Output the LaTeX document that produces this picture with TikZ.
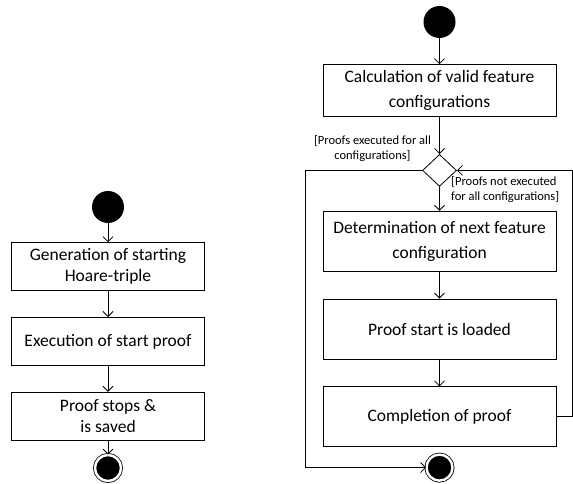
\documentclass[tikz,border=0pt]{standalone}
\usepackage{fontspec}
\setmainfont{Carlito}
\usetikzlibrary{positioning,arrows.meta,shapes.geometric}

\begin{document}
\begin{tikzpicture}[x=1pt, y=-1pt, node distance=26pt,
    every node/.style={font=\fontsize{17.5}{21.5}\selectfont},
    action/.style={draw, line width=0.8pt, minimum width=193pt, minimum height=48pt, align=center, inner sep=2pt},
    wideaction/.style={action, font=\fontsize{17.5}{25}\selectfont, minimum width=233pt, minimum height=60pt},
    decision/.style={diamond, draw, line width=0.8pt, minimum width=34pt, minimum height=32pt, inner sep=0pt},
    initial/.style={circle, fill=black, minimum size=32pt, inner sep=0pt},
    final/.style={circle, fill=black, draw=black, line width=0.8pt, double=white, double distance=2.4pt, minimum size=26pt, inner sep=0pt},
    guard/.style={font=\fontsize{12.5}{15}\selectfont, inner sep=0pt},
    flow/.style={-{Straight Barb[length=5pt, width=10pt]}, line width=0.8pt},
]
\useasboundingbox (0,0) rectangle (573,484);

% sequential proof
\node[initial] (lstart) at (108,207) {};
\node[action, below=19pt of lstart] (lgen) {Generation of starting\\Hoare-triple};
\node[action, below=of lgen] (lexec) {Execution of start proof};
\node[action, below=of lexec] (lstop) {Proof stops \&\\is saved};
\node[final, below=14pt of lstop] (lend) {};

\draw[flow] (lstart) -- (lgen);
\draw[flow] (lgen) -- (lexec);
\draw[flow] (lexec) -- (lstop);
\draw[flow] (lstop) -- (lend);

% proof per feature configuration
\node[initial] (rstart) at (439.5,22) {};
\node[wideaction, minimum height=52pt, below=26pt of rstart] (calc) {Calculation of valid feature\\configurations};
\node[decision, below=37pt of calc] (check) {};
\node[wideaction, below=24pt of check] (next) {Determination of next feature\\configuration};
\node[wideaction, below=27pt of next] (load) {Proof start is loaded};
\node[wideaction, below=27pt of load] (done) {Completion of proof};
\node[final, below=7pt of done] (rend) {};

\node[guard, align=center] (alldone) at (372.5,148.5) {[Proofs executed for all\\configurations]};
\node[guard, align=left, anchor=west] (notdone) at (451,189.5) {[Proofs not executed\\for all configurations]};

\coordinate (lbend) at (305,0);
\coordinate (rbend) at (572.5,0);

\draw[flow] (rstart) -- (calc);
\draw[flow] (calc) -- (check);
\draw[flow] (check) -- (next);
\draw[flow] (next) -- (load);
\draw[flow] (load) -- (done);
\draw[flow] (check.west) -- (check.west -| lbend) |- (rend);
\draw[flow] (done.east) -- (done.east -| rbend) |- (check.east);
\end{tikzpicture}
\end{document}
